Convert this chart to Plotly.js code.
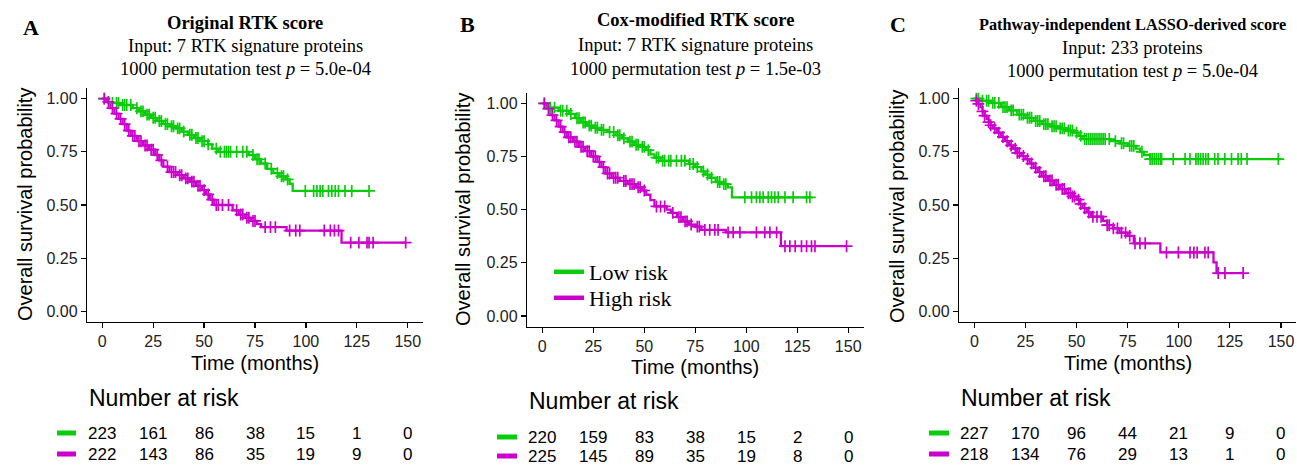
<!DOCTYPE html>
<html><head><meta charset="utf-8">
<script src="https://cdn.plot.ly/plotly-3.0.1.min.js"></script>
<style>html,body{margin:0;padding:0;background:#fff}#chart{width:1297px;height:465px}</style>
</head><body><div id="chart"></div>
<script>
// ---------- DATA ----------
const riskTimes = [0, 25, 50, 75, 100, 125, 150];

// Panel A: Original RTK score
const aLowT = [0, 3, 9, 15, 18, 21, 24, 27, 30, 33, 36, 39, 42, 45, 48, 52, 54, 57, 72, 75, 78, 81, 84, 87, 90, 92, 93.5, 131];
const aLowS = [1, 0.98, 0.97, 0.955, 0.94, 0.925, 0.91, 0.895, 0.88, 0.87, 0.86, 0.845, 0.83, 0.815, 0.80, 0.785, 0.765, 0.75, 0.735, 0.715, 0.695, 0.67, 0.65, 0.635, 0.62, 0.60, 0.566, 0.566];
const aLowCens = [1, 5, 7, 8, 10, 11, 12, 14, 17, 19, 20, 22, 23, 25, 26, 28, 29, 31, 32, 34, 35, 37, 38, 40, 43, 44, 46, 47, 49, 50, 52, 56, 58, 60, 61, 62, 63, 66, 69, 71, 74, 76, 77, 80, 83, 86, 88, 89, 91, 99.7, 103.8, 105.4, 107, 108.3, 111.1, 112.7, 114.4, 116, 119.2, 122.5, 131];
const aHighT = [0, 2, 4, 6, 8, 10, 12, 14, 17, 20, 23, 26, 28, 30, 33, 37, 40, 43, 46, 49, 51, 53, 55, 64, 67, 70, 73, 76, 78, 90.5, 117.5, 149];
const aHighS = [1, 0.985, 0.955, 0.93, 0.905, 0.88, 0.85, 0.825, 0.80, 0.78, 0.76, 0.735, 0.71, 0.68, 0.655, 0.64, 0.625, 0.61, 0.59, 0.57, 0.55, 0.525, 0.50, 0.475, 0.455, 0.44, 0.425, 0.41, 0.396, 0.38, 0.323, 0.323];
const aHighCens = [1, 3, 5, 7, 9, 11, 13, 15, 16, 18, 19, 21, 22, 24, 25, 27, 29, 32, 34, 35, 36, 38, 39, 41, 42, 44, 45, 47, 48, 50, 52, 54, 56, 57, 59, 62, 66, 68, 69, 71, 72, 74, 75, 80, 82.6, 85, 92, 95, 97, 109, 112, 114, 116, 122, 126, 130, 131, 133, 149];
const aRiskLow = [223, 161, 86, 38, 15, 1, 0];
const aRiskHigh = [222, 143, 86, 35, 19, 9, 0];

// Panel B: Cox-modified RTK score
const bLowT = [0, 3, 8, 13, 16, 19, 22, 25, 28, 32, 36, 39, 42, 45, 48, 51, 53, 55, 58, 72, 75, 78, 80, 82, 85, 88, 91, 93, 132];
const bLowS = [1, 0.98, 0.965, 0.95, 0.93, 0.91, 0.895, 0.885, 0.875, 0.865, 0.85, 0.835, 0.82, 0.805, 0.795, 0.78, 0.76, 0.745, 0.73, 0.715, 0.70, 0.68, 0.665, 0.65, 0.63, 0.62, 0.605, 0.558, 0.558];
const bLowCens = [1, 4, 6, 9, 10, 12, 14, 17, 18, 20, 21, 23, 24, 26, 27, 29, 30, 33, 35, 37, 38, 40, 43, 44, 46, 47, 49, 50, 52, 56, 57, 59, 60, 62, 63, 65.8, 68.2, 69.9, 72.3, 74, 76, 79, 81, 83, 86, 87, 89, 90, 99.3, 102.6, 105, 106.7, 108.3, 110.8, 112.4, 114, 115.7, 119, 123, 129.6, 131.2];
const bHighT = [0, 2, 4, 6, 8, 10, 12, 15, 18, 21, 24, 27, 29, 31, 34, 38, 42, 46, 49, 51, 53, 55, 61, 63, 66, 69, 72, 75, 78, 90, 117, 149];
const bHighS = [1, 0.975, 0.945, 0.92, 0.89, 0.865, 0.84, 0.82, 0.795, 0.775, 0.75, 0.725, 0.70, 0.67, 0.65, 0.635, 0.62, 0.605, 0.59, 0.57, 0.545, 0.515, 0.50, 0.485, 0.465, 0.445, 0.43, 0.42, 0.405, 0.393, 0.328, 0.328];
const bHighCens = [1, 3, 5, 7, 9, 11, 13, 14, 16, 17, 19, 20, 22, 23, 25, 26, 28, 30, 32, 33, 35, 36, 37, 40, 41, 43, 44, 45, 47, 48, 50, 56, 58, 60, 64, 67, 68, 70, 71, 73, 76, 77, 79.7, 82.1, 84.6, 86.2, 91.1, 93.6, 96.9, 105, 109.1, 111.6, 114.9, 119, 121.4, 124, 127.1, 129.6, 132, 133.7, 149.2];
const bRiskLow = [220, 159, 83, 38, 15, 2, 0];
const bRiskHigh = [225, 145, 89, 35, 19, 8, 0];

// Panel C: Pathway-independent LASSO-derived score
const cLowT = [0, 3, 8, 13, 17, 21, 25, 29, 33, 37, 41, 45, 49, 51, 53, 67, 71, 75, 79, 81, 83, 86, 150];
const cLowS = [1, 0.99, 0.98, 0.96, 0.945, 0.925, 0.91, 0.895, 0.88, 0.87, 0.86, 0.85, 0.84, 0.825, 0.81, 0.80, 0.79, 0.778, 0.765, 0.75, 0.735, 0.716, 0.716];
const cLowCens = [1, 2, 4, 6, 7, 9, 10, 12, 14, 15, 16, 18, 19, 22, 23, 24, 26, 27, 28, 30, 31, 32, 34, 35, 36, 38, 39, 40, 42, 43, 44, 46, 47, 48, 50, 52, 54, 55, 56, 57, 58, 59, 60, 61, 62, 63, 64, 66, 69, 72, 73, 76, 77, 78, 82, 86, 87, 88, 89, 90, 91, 91.6, 97.3, 103.1, 105.5, 108.4, 109.5, 110.7, 111.9, 113.2, 114.4, 117.6, 119.2, 122.5, 125.8, 129, 130.6, 133.4, 148.7];
const cHighT = [0, 1, 2, 3, 4, 5, 6, 7, 8, 9, 11, 13, 15, 17, 19, 21, 23, 25, 27, 29, 31, 33, 36, 39, 42, 45, 48, 50, 51.5, 53, 55, 57, 63, 65, 68, 71, 75, 78, 91, 117, 118.5, 131.5];
const cHighS = [1, 0.99, 0.975, 0.96, 0.94, 0.92, 0.905, 0.89, 0.875, 0.86, 0.84, 0.82, 0.80, 0.78, 0.765, 0.745, 0.73, 0.715, 0.695, 0.675, 0.655, 0.635, 0.615, 0.595, 0.575, 0.555, 0.54, 0.525, 0.505, 0.485, 0.465, 0.445, 0.425, 0.405, 0.39, 0.37, 0.355, 0.32, 0.277, 0.23, 0.18, 0.18];
const cHighCens = [1, 2, 4, 5, 7, 8, 10, 12, 14, 16, 18, 20, 21, 22, 24, 26, 28, 30, 32, 34, 35, 37, 38, 40, 41, 43, 44, 46, 47, 48, 49, 51, 52, 54, 56, 58, 60, 62, 65, 66, 68, 70, 72, 74, 76, 78.6, 81, 83.6, 94, 99.8, 105.5, 107.4, 109, 112.8, 114.4, 119.3, 122.6, 131.5];
const cRiskLow = [227, 170, 96, 44, 21, 9, 0];
const cRiskHigh = [218, 134, 76, 29, 13, 1, 0];

const groupNames = ['Low risk', 'High risk'];
const panelLetters = ['A', 'B', 'C'];
const panelTitles = ['Original RTK score', 'Cox-modified RTK score', 'Pathway-independent LASSO-derived score'];
const panelInputs = ['Input: 7 RTK signature proteins', 'Input: 7 RTK signature proteins', 'Input: 233 proteins'];
const panelP = ['5.0e-04', '1.5e-03', '5.0e-04'];

// ---------- STYLE ----------
const GREEN = '#0ACC0A', MAGENTA = '#CC00CC';
const W = 1297, H = 465;
const px = v => v / W, py = v => 1 - v / H;
const SANS = 'Arial, "Liberation Sans", sans-serif';
const SERIF = '"Times New Roman", "Liberation Serif", serif';

function survAt(ts, ss, t) { let s = ss[0]; for (let i = 0; i < ts.length; i++) if (ts[i] <= t) s = ss[i]; return s; }

const panels = [
  {low: [aLowT, aLowS, aLowCens], high: [aHighT, aHighS, aHighCens], risk: [aRiskLow, aRiskHigh],
   xd: [87, 423], yd: [88, 322], titleX: 245, titleY: [23, 45.5, 68.5], titleSize: 18.5, letter: [31, 27],
   yTitle: [25, 205], xTitle: [255, 363], natr: [87, 398], rows: [433, 454], dash: [57, 76]},
  {low: [bLowT, bLowS, bLowCens], high: [bHighT, bHighS, bHighCens], risk: [bRiskLow, bRiskHigh],
   xd: [527, 863.5], yd: [92.7, 326.6], titleX: 695, titleY: [20, 45, 68.5], titleSize: 18.5, letter: [467, 25],
   yTitle: [463, 210], xTitle: [695, 367], natr: [527, 401], rows: [437, 456], dash: [497, 517]},
  {low: [cLowT, cLowS, cLowCens], high: [cHighT, cHighS, cHighCens], risk: [cRiskLow, cRiskHigh],
   xd: [959, 1296.3], yd: [88, 322], titleX: 1132, titleY: [25, 47.5, 71], titleSize: 16.3, letter: [898, 25],
   yTitle: [897, 207], xTitle: [1127.5, 363], natr: [959, 398], rows: [433, 454], dash: [929, 949]}
];

const traces = [];
const annotations = [];
const shapes = [];
const layout = {
  width: W, height: H, margin: {l: 0, r: 0, t: 0, b: 0},
  paper_bgcolor: '#fff', plot_bgcolor: '#fff',
  showlegend: true,
  legend: {x: px(549), y: py(272), xanchor: 'left', yanchor: 'middle', bgcolor: 'rgba(0,0,0,0)',
           font: {family: SERIF, size: 22, color: '#000'}, itemwidth: 30},
  legend2: {x: px(549), y: py(298), xanchor: 'left', yanchor: 'middle', bgcolor: 'rgba(0,0,0,0)',
           font: {family: SERIF, size: 22, color: '#000'}, itemwidth: 30},
  annotations, shapes
};

panels.forEach((p, i) => {
  const sfx = i === 0 ? '' : String(i + 1);
  const xa = 'x' + sfx, ya = 'y' + sfx;
  [[p.low, GREEN], [p.high, MAGENTA]].forEach(([g, col]) => {
    const [ts, ss] = g;
    traces.push({x: ts, y: ss, type: 'scatter', mode: 'lines', line: {shape: 'hv', color: col, width: 2.3},
      xaxis: xa, yaxis: ya, showlegend: false, hoverinfo: 'skip'});
  });
  [[p.low, GREEN], [p.high, MAGENTA]].forEach(([g, col]) => {
    const [ts, ss, cens] = g;
    traces.push({x: cens, y: cens.map(t => survAt(ts, ss, t)), type: 'scatter', mode: 'markers',
      marker: {symbol: 'cross-thin', size: 8.5, color: col, line: {color: col, width: 1.7}},
      xaxis: xa, yaxis: ya, showlegend: false, hoverinfo: 'skip'});
  });
  const common = {showgrid: false, zeroline: false, showline: true, linecolor: '#000', linewidth: 1.2,
    ticks: 'outside', ticklen: 5, tickwidth: 1.2, tickcolor: '#000',
    tickfont: {family: SANS, size: 16, color: '#222'}, fixedrange: true};
  layout['xaxis' + sfx] = Object.assign({}, common, {domain: [px(p.xd[0]), px(p.xd[1])], range: [-7.5, 157.5],
    tickvals: riskTimes, anchor: ya});
  layout['yaxis' + sfx] = Object.assign({}, common, {domain: [py(p.yd[1]), py(p.yd[0])], range: [-0.05, 1.05],
    tickvals: [0, 0.25, 0.5, 0.75, 1], tickformat: '.2f', anchor: xa});

  // panel letter and titles
  annotations.push({text: '<b>' + panelLetters[i] + '</b>', x: px(p.letter[0]), y: py(p.letter[1]), xref: 'paper', yref: 'paper',
    showarrow: false, xanchor: 'center', yanchor: 'middle', font: {family: SERIF, size: 22, color: '#000'}});
  annotations.push({text: '<b>' + panelTitles[i] + '</b>', x: px(p.titleX), y: py(p.titleY[0]), xref: 'paper', yref: 'paper',
    showarrow: false, xanchor: 'center', yanchor: 'middle', font: {family: SERIF, size: p.titleSize, color: '#000'}});
  annotations.push({text: panelInputs[i], x: px(p.titleX), y: py(p.titleY[1]), xref: 'paper', yref: 'paper',
    showarrow: false, xanchor: 'center', yanchor: 'middle', font: {family: SERIF, size: 18.5, color: '#000'}});
  annotations.push({text: '1000 permutation test <i>p</i> = ' + panelP[i], x: px(p.titleX), y: py(p.titleY[2]), xref: 'paper', yref: 'paper',
    showarrow: false, xanchor: 'center', yanchor: 'middle', font: {family: SERIF, size: 18.5, color: '#000'}});
  // axis titles
  annotations.push({text: 'Overall survival probability', x: px(p.yTitle[0]), y: py(p.yTitle[1]), xref: 'paper', yref: 'paper',
    showarrow: false, textangle: -90, xanchor: 'center', yanchor: 'middle', font: {family: SANS, size: 20, color: '#000'}});
  annotations.push({text: 'Time (months)', x: px(p.xTitle[0]), y: py(p.xTitle[1]), xref: 'paper', yref: 'paper',
    showarrow: false, xanchor: 'center', yanchor: 'middle', font: {family: SANS, size: 20, color: '#000'}});
  // risk table
  annotations.push({text: 'Number at risk', x: px(p.natr[0]), y: py(p.natr[1]), xref: 'paper', yref: 'paper',
    showarrow: false, xanchor: 'left', yanchor: 'middle', font: {family: SANS, size: 23, color: '#000'}});
  [[p.risk[0], GREEN, p.rows[0]], [p.risk[1], MAGENTA, p.rows[1]]].forEach(([vals, col, ry]) => {
    vals.forEach((v, k) => {
      annotations.push({text: String(v), x: riskTimes[k], y: py(ry), xref: xa, yref: 'paper', showarrow: false,
        xanchor: 'center', yanchor: 'middle', font: {family: SANS, size: 17, color: '#000'}});
    });
    shapes.push({type: 'line', xref: 'paper', yref: 'paper', x0: px(p.dash[0]), x1: px(p.dash[1]), y0: py(ry), y1: py(ry),
      line: {color: col, width: 5}});
  });
});

// legend keys for panel B (legend-only entries)
traces.push({x: [null], y: [null], type: 'scatter', mode: 'lines', name: groupNames[0], line: {color: GREEN, width: 4.5},
  xaxis: 'x2', yaxis: 'y2', showlegend: true, legend: 'legend', hoverinfo: 'skip'});
traces.push({x: [null], y: [null], type: 'scatter', mode: 'lines', name: groupNames[1], line: {color: MAGENTA, width: 4.5},
  xaxis: 'x2', yaxis: 'y2', showlegend: true, legend: 'legend2', hoverinfo: 'skip'});

Plotly.newPlot('chart', traces, layout, {displayModeBar: false, staticPlot: true});
</script></body></html>
